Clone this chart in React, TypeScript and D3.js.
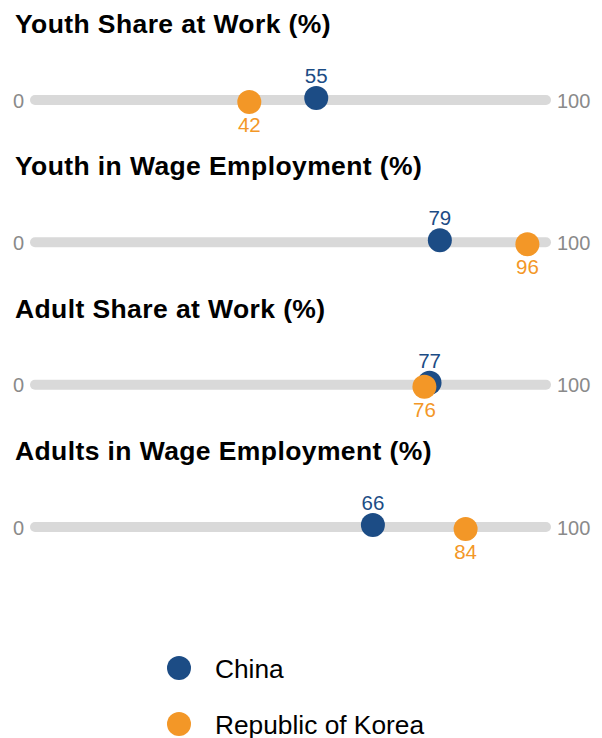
import React from "react";
import * as d3 from "d3";

const indicators = [
  "Youth Share at Work (%)",
  "Youth in Wage Employment (%)",
  "Adult Share at Work (%)",
  "Adults in Wage Employment (%)",
];
const chinaValues = [55, 79, 77, 66];
const koreaValues = [42, 96, 76, 84];
const seriesNames = ["China", "Republic of Korea"];
const axisMin = 0;
const axisMax = 100;

const COLORS = { China: "#1c4c85", Korea: "#f39727" };
const FONT = "'Liberation Sans', Arial, Helvetica, sans-serif";

export default function App() {
  const W = 602;
  const H = 738;
  const x = d3.scaleLinear().domain([axisMin, axisMax]).range([33, 548]);
  const y = d3.scalePoint<string>().domain(indicators).range([100, 527]);
  const legendY = d3.scalePoint<string>().domain(seriesNames).range([668, 724]);

  return (
    <svg
      width={W}
      height={H}
      style={{ position: "absolute", left: 0, top: 0, fontFamily: FONT }}
    >
      {indicators.map((name, i) => {
        const cy = y(name) as number;
        return (
          <g key={name}>
            <text x={15} y={cy - 67} fontSize={26.5} letterSpacing={0.4} fontWeight="bold" fill="#000">
              {name}
            </text>
            <rect
              x={x(axisMin) - 3}
              y={cy - 5}
              width={x(axisMax) - x(axisMin) + 6}
              height={10}
              rx={5}
              fill="#d9d9d9"
            />
            <text x={24} y={cy + 7.5} fontSize={20} fill="#8a8a8a" textAnchor="end">
              {axisMin}
            </text>
            <text x={557} y={cy + 7.5} fontSize={20} fill="#8a8a8a">
              {axisMax}
            </text>
            <circle cx={x(chinaValues[i])} cy={cy - 2} r={12} fill={COLORS.China} />
            <circle cx={x(koreaValues[i])} cy={cy + 2} r={12} fill={COLORS.Korea} />
            <text
              x={x(chinaValues[i])}
              y={cy - 17}
              fontSize={20.5}
              fill={COLORS.China}
              textAnchor="middle"
            >
              {chinaValues[i]}
            </text>
            <text
              x={x(koreaValues[i])}
              y={cy + 32}
              fontSize={20.5}
              fill={COLORS.Korea}
              textAnchor="middle"
            >
              {koreaValues[i]}
            </text>
          </g>
        );
      })}
      {seriesNames.map((s, i) => {
        const ly = legendY(s) as number;
        return (
          <g key={s}>
            <circle cx={179} cy={ly} r={12} fill={i === 0 ? COLORS.China : COLORS.Korea} />
            <text x={215} y={ly + 9.5} fontSize={26.3} fill="#000">
              {s}
            </text>
          </g>
        );
      })}
    </svg>
  );
}
